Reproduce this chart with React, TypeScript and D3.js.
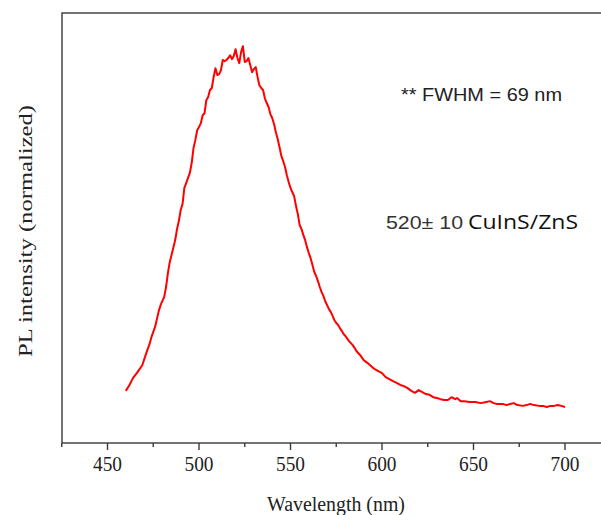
import React from "react";
import * as d3 from "d3";

const wavelengths = [460,462,464,466,469,471,473,474,476,478,479,481,482,483,484,485,487,488,489,490,491,492,493,495,496,497,498,499,500,501,502,503,504,505,506,507,508,509,510,511,512,513,514,515,516,517,518,519,520,521,522,523,524,525,526,527,528,529,530,531,532,533,534,535,536,537,538,539,540,541,542,543,544,545,546,547,548,549,550,551,552,553,554,555,556,557,558,559,560,561,562,563,564,565,566,567,568,569,570,571,572,573,574,575,576,577,578,579,580,582,584,585,586,588,590,592,594,596,598,600,602,604,606,608,610,612,614,616,618,620,622,624,626,628,630,632,634,636,638,640,641,643,645,648,651,654,657,659,661,663,666,668,670,672,674,677,679,681,683,686,688,690,692,694,696,698,700];

const intensity = [0.132,0.147,0.165,0.177,0.197,0.225,0.251,0.268,0.294,0.334,0.349,0.370,0.395,0.430,0.458,0.476,0.514,0.542,0.562,0.590,0.605,0.646,0.658,0.684,0.709,0.747,0.767,0.792,0.800,0.810,0.830,0.835,0.868,0.876,0.894,0.899,0.927,0.949,0.932,0.934,0.944,0.970,0.967,0.970,0.975,0.982,0.972,0.980,0.997,0.975,0.962,0.990,1.005,0.965,0.967,0.975,0.957,0.939,0.947,0.952,0.927,0.906,0.899,0.894,0.873,0.861,0.851,0.833,0.823,0.808,0.787,0.770,0.749,0.727,0.714,0.699,0.678,0.661,0.646,0.635,0.625,0.600,0.580,0.552,0.542,0.527,0.514,0.496,0.481,0.468,0.451,0.433,0.423,0.410,0.395,0.382,0.372,0.359,0.349,0.339,0.332,0.322,0.311,0.304,0.299,0.291,0.284,0.276,0.271,0.258,0.248,0.241,0.233,0.223,0.210,0.203,0.195,0.187,0.182,0.177,0.167,0.162,0.157,0.152,0.147,0.144,0.139,0.132,0.127,0.134,0.129,0.124,0.122,0.116,0.114,0.111,0.109,0.109,0.116,0.111,0.114,0.106,0.106,0.104,0.104,0.101,0.104,0.106,0.101,0.099,0.099,0.096,0.099,0.101,0.096,0.094,0.096,0.099,0.096,0.094,0.094,0.091,0.094,0.094,0.096,0.094,0.091];

const majorTicks = [450, 500, 550, 600, 650, 700];
const minorTicks = [425, 475, 525, 575, 625, 675, 725];
const xDomain = [425, 725];
const yDomain = [0, 1.089];

const xTitle = "Wavelength (nm)";
const yTitle = "PL intensity (normalized)";
const note1 = "** FWHM = 69 nm";
const note2a = "520\u00b1 10";
const note2b = "CuInS/ZnS";

export default function App() {
  const W = 601, H = 515;
  const left = 62, top = 13, bottom = 443;
  const x = d3.scaleLinear().domain(xDomain).range([61.75, 610.75]);
  const y = d3.scaleLinear().domain(yDomain).range([bottom, top]);
  const pts = wavelengths.map((w, i) => [w, intensity[i]] as [number, number]);
  const line = d3.line<[number, number]>().x(d => x(d[0])).y(d => y(d[1]));
  const frameRight = x(xDomain[1]);
  const serif = "'Liberation Serif', 'Times New Roman', serif";
  const sans = "'Liberation Sans', Arial, sans-serif";
  return (
    <svg width={W} height={H} style={{ position: "absolute", left: 0, top: 0, display: "block" }}>
      <rect x={0} y={0} width={W} height={H} fill="#fff" />
      <rect x={left} y={top} width={frameRight - left} height={bottom - top} fill="none" stroke="#3a3a3a" strokeWidth={1.4} />
      {majorTicks.map(t => (
        <g key={"M" + t}>
          <line x1={x(t)} x2={x(t)} y1={bottom} y2={bottom + 7} stroke="#3a3a3a" strokeWidth={1.4} />
          <text x={x(t)} y={471} textAnchor="middle" fontFamily={serif} fontSize={20} fill="#222" textLength={29} lengthAdjust="spacingAndGlyphs">{t}</text>
        </g>
      ))}
      {minorTicks.map(t => (
        <line key={"m" + t} x1={x(t)} x2={x(t)} y1={bottom} y2={bottom + 4} stroke="#3a3a3a" strokeWidth={1.4} />
      ))}
      <text x={336} y={511} textAnchor="middle" fontFamily={serif} fontSize={20} fill="#222" textLength={138} lengthAdjust="spacingAndGlyphs">{xTitle}</text>
      <text transform={`translate(32, 231) rotate(-90)`} textAnchor="middle" fontFamily={serif} fontSize={18} fill="#222" textLength={252} lengthAdjust="spacingAndGlyphs">{yTitle}</text>
      <path d={line(pts) || ""} fill="none" stroke="#ff0000" strokeWidth={2} strokeLinejoin="round" />
      <text x={401} y={101} fontFamily={sans} fontSize={18} fill="#222" textLength={161} lengthAdjust="spacingAndGlyphs">{note1}</text>
      <text x={386} y={229} fontFamily={sans} fill="#333" fontSize={18} textLength={77} lengthAdjust="spacingAndGlyphs">{note2a}</text>
      <text x={468} y={229} fontFamily="'Open Sans', 'Noto Sans', sans-serif" fill="#111" fontSize={20} textLength={110} lengthAdjust="spacingAndGlyphs">{note2b}</text>
    </svg>
  );
}
